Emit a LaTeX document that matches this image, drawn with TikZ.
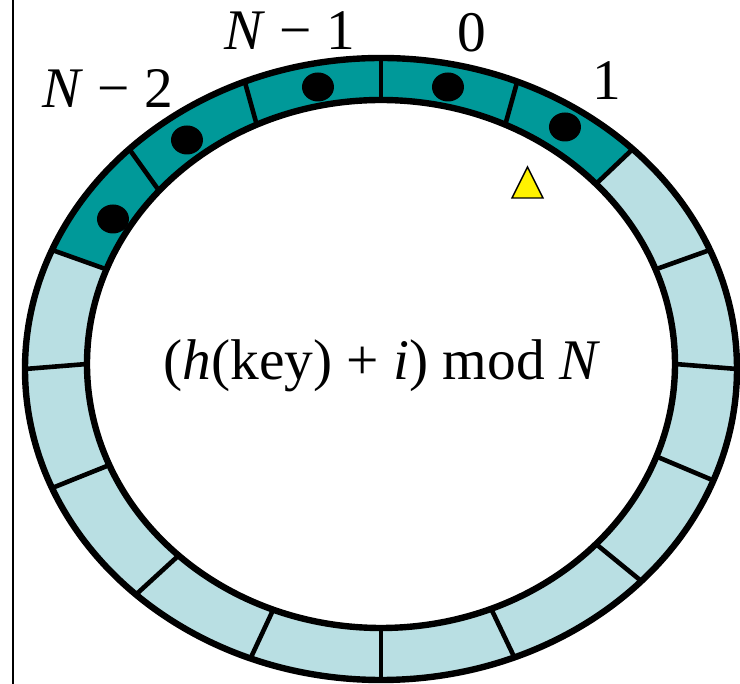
\documentclass[tikz,border=0pt]{standalone}
\usepackage{fontspec}
\setmainfont{Liberation Serif}
\usetikzlibrary{calc,shapes.geometric}
\definecolor{slotfull}{RGB}{0,153,153}
\definecolor{slotfree}{RGB}{185,223,227}

\begin{document}
\begin{tikzpicture}[
  ringedge/.style  = {draw, line width=3.2pt},
  ringdiv/.style   = {line width=2.3pt},
  slotdot/.style   = {ellipse, fill=black, minimum width=16pt, minimum height=14.5pt, inner sep=0pt},
  ringlabel/.style = {anchor=base, inner sep=0pt, font=\fontsize{28.7}{34}\selectfont},
  probe/.style     = {fill=yellow, draw=black, line width=0.7pt, line join=miter},
  x=0.5pt, y=0.5pt,
]
  \useasboundingbox (-381,-315) rectangle (359,369);
  \coordinate (oc) at (0,0);
  \coordinate (ic) at (0,5);
  \draw[line width=1pt] (-368,369) -- (-368,-315);

  \fill[slotfree] (oc) ellipse [x radius=356, y radius=311];
  \fill[slotfull] ($(oc)+(45:356 and 311)$) arc[start angle=45, end angle=157.5, x radius=356, y radius=311]
    -- ($(ic)+(159:294 and 264)$) arc[start angle=159, end angle=43, x radius=294, y radius=264] -- cycle;
  \fill[white] (ic) ellipse [x radius=294, y radius=264];

  \draw[ringdiv] ($(oc)+(0:356 and 311)$) -- ($(ic)+(0:294 and 264)$);
  \draw[ringdiv] ($(oc)+(22.5:356 and 311)$) -- ($(ic)+(21:294 and 264)$);
  \draw[ringdiv] ($(oc)+(45:356 and 311)$) -- ($(ic)+(43:294 and 264)$);
  \draw[ringdiv] ($(oc)+(67.5:356 and 311)$) -- ($(ic)+(65:294 and 264)$);
  \draw[ringdiv] ($(oc)+(90:356 and 311)$) -- ($(ic)+(90:294 and 264)$);
  \draw[ringdiv] ($(oc)+(112.5:356 and 311)$) -- ($(ic)+(115:294 and 264)$);
  \draw[ringdiv] ($(oc)+(135:356 and 311)$) -- ($(ic)+(139:294 and 264)$);
  \draw[ringdiv] ($(oc)+(157.5:356 and 311)$) -- ($(ic)+(159:294 and 264)$);
  \draw[ringdiv] ($(oc)+(180:356 and 311)$) -- ($(ic)+(180:294 and 264)$);
  \draw[ringdiv] ($(oc)+(-157.5:356 and 311)$) -- ($(ic)+(-157.5:294 and 264)$);
  \draw[ringdiv] ($(oc)+(-133.5:356 and 311)$) -- ($(ic)+(-133.5:294 and 264)$);
  \draw[ringdiv] ($(oc)+(-111.5:356 and 311)$) -- ($(ic)+(-111.5:294 and 264)$);
  \draw[ringdiv] ($(oc)+(-90:356 and 311)$) -- ($(ic)+(-90:294 and 264)$);
  \draw[ringdiv] ($(oc)+(-68:356 and 311)$) -- ($(ic)+(-68:294 and 264)$);
  \draw[ringdiv] ($(oc)+(-43:356 and 311)$) -- ($(ic)+(-43:294 and 264)$);
  \draw[ringdiv] ($(oc)+(-21:356 and 311)$) -- ($(ic)+(-20.5:294 and 264)$);

  \draw[ringedge] (oc) ellipse [x radius=356, y radius=311];
  \draw[ringedge] (ic) ellipse [x radius=294, y radius=264];

  \node[slotdot] (dnm2) at (-268,150) {};
  \node[slotdot] (dnm3) at (-194,229) {};
  \node[slotdot] (dnm1) at (-63,282) {};
  \node[slotdot] (dzero) at (67,282) {};
  \node[slotdot] (done) at (184,242) {};

  \filldraw[probe] (131,171) -- (162,171) -- (146.5,202) -- cycle;

  \node[ringlabel] (lnm2) at (-273,261) {\textit{N} − 2};
  \node[ringlabel] (lnm1) at (-91,319) {\textit{N} − 1};
  \node[ringlabel] (lzero) at (91,317) {0};
  \node[ringlabel] (lone) at (226,269) {1};
  \node[ringlabel] (formula) at (1,-11) {(\textit{h}(key) + \textit{i}) mod \textit{N}};
\end{tikzpicture}
\end{document}
